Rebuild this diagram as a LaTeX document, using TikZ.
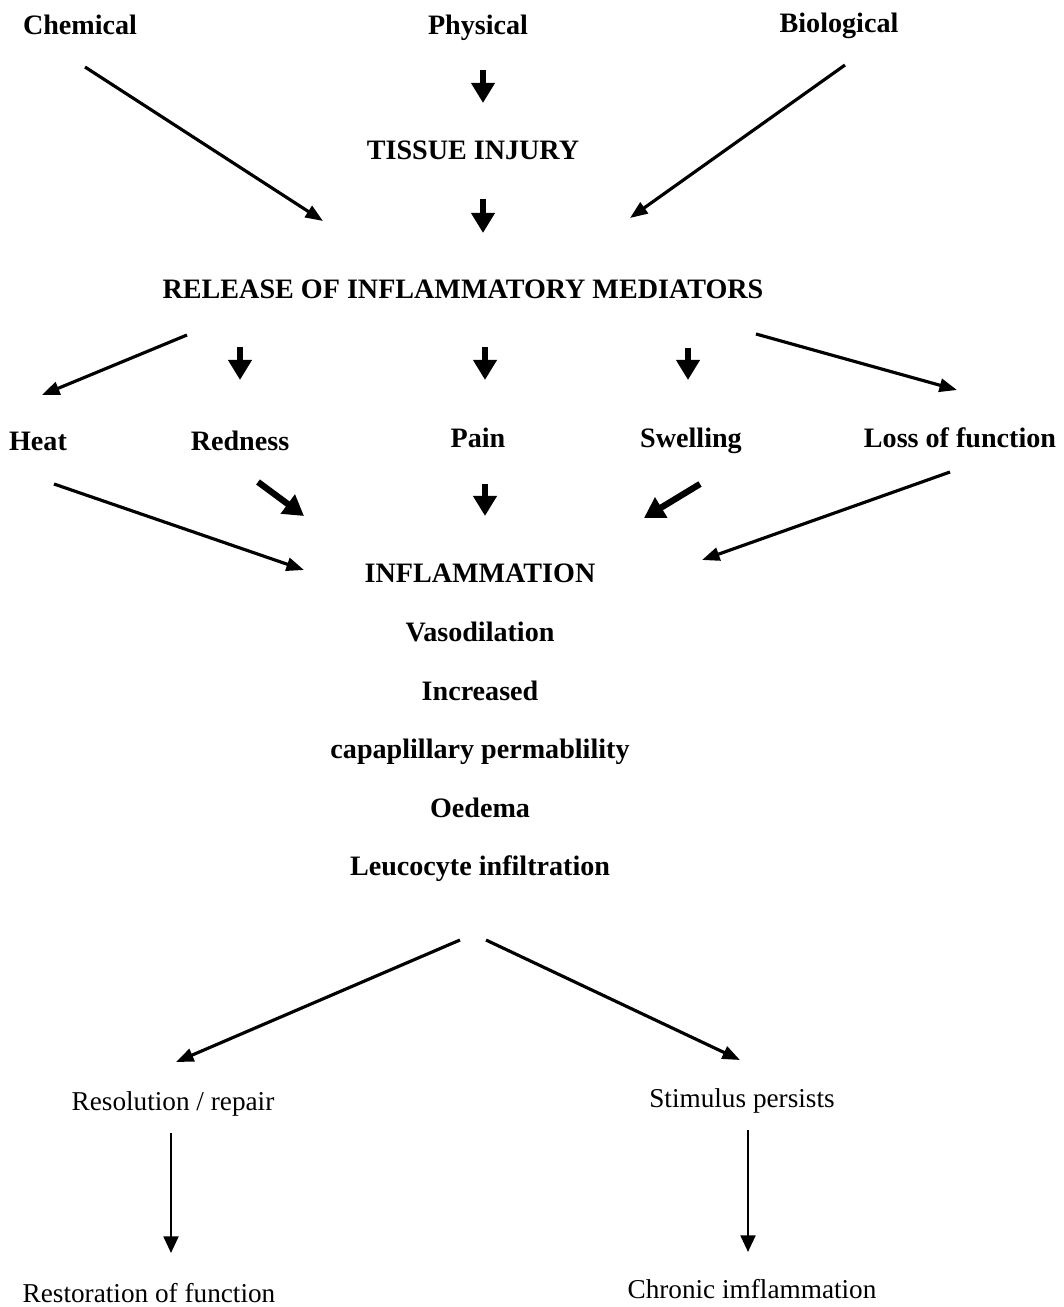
\documentclass[tikz,border=0pt]{standalone}
\usepackage{fontspec}
\setmainfont{Liberation Serif}
\usetikzlibrary{arrows.meta}

\begin{document}
\begin{tikzpicture}[x=0.02cm, y=-0.02cm,
            txt/.style={anchor=base, inner sep=0pt, font=\fontsize{16}{19}\selectfont\bfseries},
            txtPlain/.style={anchor=base, inner sep=0pt, font=\fontsize{15.5}{18}\selectfont},
            arrThin/.style={line width=1.8pt, -{Triangle[length=10pt, width=7.5pt]}},
            arrThick/.style={line width=3.6pt, -{Triangle[length=11.5pt, width=13pt]}},
            arrLow/.style={line width=1.4pt, -{Triangle[length=9.5pt, width=8.5pt]}}]

            \useasboundingbox (0,0) rectangle (1063,1307);

            \node[txt] (chem) at (80,35) {Chemical};
            \node[txt] (phys) at (478,35) {Physical};
            \node[txt] (bio) at (839,33) {Biological};
            \node[txt] (tissue) at (473,160) {TISSUE INJURY};
            \node[txt] (rel) at (463,298) {RELEASE OF INFLAMMATORY MEDIATORS};

            \node[txt] (heat) at (38,450) {Heat};
            \node[txt] (red) at (240,450) {Redness};
            \node[txt] (pain) at (478,447) {Pain};
            \node[txt] (swell) at (691,447) {Swelling};
            \node[txt] (loss) at (960,447) {Loss of function};

            \node[txt] (infl) at (480,582) {INFLAMMATION};
            \node[txt] (vaso) at (480,641) {Vasodilation};
            \node[txt] (incr) at (480,700) {Increased};
            \node[txt] (capp) at (480,758) {capaplillary permablility};
            \node[txt] (oed) at (480,817) {Oedema};
            \node[txt] (leuco) at (480,875) {Leucocyte infiltration};

            \node[txtPlain] (resol) at (173,1110) {Resolution / repair};
            \node[txtPlain] (stim) at (742,1107) {Stimulus persists};
            \node[txtPlain] (resto) at (149,1302) {Restoration of function};
            \node[txtPlain] (chron) at (752,1298) {Chronic imflammation};

            % causes
            \draw[arrThin] ([shift={(5,32)}]chem.base) -- ([shift={(-140,-77)}]rel.base);
            \draw[arrThick] ([shift={(5,35)}]phys.base) -- ([shift={(10,-57)}]tissue.base);
            \draw[arrThin] ([shift={(6,32)}]bio.base) -- ([shift={(167,-80)}]rel.base);
            \draw[arrThick] ([shift={(10,39)}]tissue.base) -- ([shift={(20,-65)}]rel.base);

            % signs
            \draw[arrThin] ([shift={(-276,37)}]rel.base) -- ([shift={(4,-55)}]heat.base);
            \draw[arrThick] ([shift={(-223,49)}]rel.base) -- ([shift={(0,-70)}]red.base);
            \draw[arrThick] ([shift={(22,49)}]rel.base) -- ([shift={(7,-67)}]pain.base);
            \draw[arrThick] ([shift={(225,50)}]rel.base) -- ([shift={(-3,-67)}]swell.base);
            \draw[arrThin] ([shift={(293,36)}]rel.base) -- ([shift={(-3,-57)}]loss.base);

            \draw[arrThin] ([shift={(16,34)}]heat.base) -- ([shift={(-176,-12)}]infl.base);
            \draw[arrThick] ([shift={(18,32)}]red.base) -- ([shift={(-176,-66)}]infl.base);
            \draw[arrThick] ([shift={(7,37)}]pain.base) -- ([shift={(5,-66)}]infl.base);
            \draw[arrThick] ([shift={(9,37)}]swell.base) -- ([shift={(164,-64)}]infl.base);
            \draw[arrThin] ([shift={(-10,25)}]loss.base) -- ([shift={(222,-22)}]infl.base);

            % outcomes
            \draw[arrThin] ([shift={(-20,65)}]leuco.base) -- ([shift={(3,-48)}]resol.base);
            \draw[arrThin] ([shift={(6,65)}]leuco.base) -- ([shift={(-2,-47)}]stim.base);
            \draw[arrLow] ([shift={(-2,23)}]resol.base) -- ([shift={(22,-49)}]resto.base);
            \draw[arrLow] ([shift={(6,23)}]stim.base) -- ([shift={(-4,-46)}]chron.base);

        \end{tikzpicture}
\end{document}
